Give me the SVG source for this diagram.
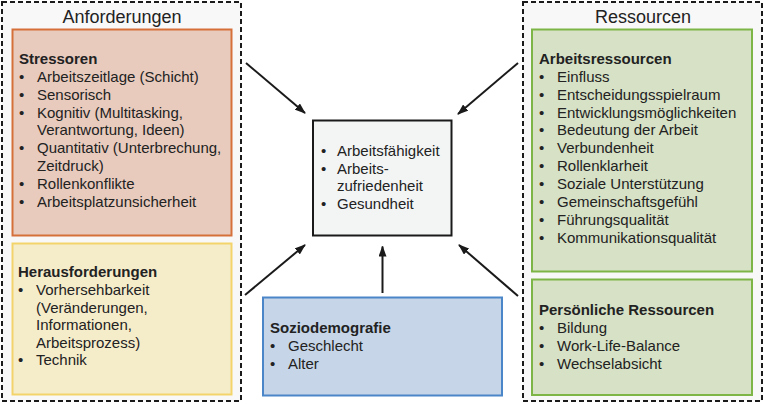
<svg xmlns="http://www.w3.org/2000/svg" width="764" height="404" viewBox="0 0 764 404">
<style>
text{font-family:"Liberation Sans",Arial,sans-serif;font-size:15px;fill:#222}
.h{font-weight:bold}
.t{font-size:18px;text-anchor:middle}
.c{fill:#f8f8f8;stroke:#1a1a1a;stroke-width:2;stroke-dasharray:5,3}
.ar{stroke:#1a1a1a;stroke-width:2;fill:none;marker-end:url(#ah)}
</style>
<defs>
<marker id="ah" viewBox="0 0 11 8" refX="10" refY="4" markerWidth="5.5" markerHeight="4" markerUnits="strokeWidth" orient="auto">
<path d="M0,0 L11,4 L0,8 z" fill="#1a1a1a"/>
</marker>
</defs>
<g id="anforderungen">
<rect class="c" x="2" y="2" width="239" height="399"/>
<text class="t" x="122" y="23">Anforderungen</text>
</g>
<g id="ressourcen">
<rect class="c" x="523" y="2" width="239" height="399"/>
<text class="t" x="643" y="23">Ressourcen</text>
</g>
<g id="stressoren">
<rect x="12.5" y="29.5" width="219" height="206" fill="#e8cbbd" stroke="#d5703b" stroke-width="2"/>
<text class="h" x="19" y="64">Stressoren</text>
<text x="19" y="82">•</text><text x="37" y="82">Arbeitszeitlage (Schicht)</text>
<text x="19" y="100">•</text><text x="37" y="100">Sensorisch</text>
<text x="19" y="117.5">•</text><text x="37" y="117.5">Kognitiv (Multitasking,</text>
<text x="37" y="135">Verantwortung, Ideen)</text>
<text x="19" y="153">•</text><text x="37" y="153">Quantitativ (Unterbrechung,</text>
<text x="37" y="170.5">Zeitdruck)</text>
<text x="19" y="189">•</text><text x="37" y="189">Rollenkonflikte</text>
<text x="19" y="207">•</text><text x="37" y="207">Arbeitsplatzunsicherheit</text>
</g>
<g id="herausforderungen">
<rect x="12.5" y="243.5" width="219" height="151" fill="#f5ecca" stroke="#f3d46a" stroke-width="2"/>
<text class="h" x="18" y="277">Herausforderungen</text>
<text x="18" y="295">•</text><text x="36" y="295">Vorhersehbarkeit</text>
<text x="36" y="312.5">(Veränderungen,</text>
<text x="36" y="330">Informationen,</text>
<text x="36" y="347.5">Arbeitsprozess)</text>
<text x="18" y="365">•</text><text x="36" y="365">Technik</text>
</g>
<g id="ergebnis">
<rect x="313" y="120.5" width="138.5" height="115" fill="#f3f5f5" stroke="#1a1a1a" stroke-width="2"/>
<text x="321" y="156">•</text><text x="337" y="156">Arbeitsfähigkeit</text>
<text x="321" y="173.5">•</text><text x="337" y="173.5">Arbeits-</text>
<text x="337" y="191">zufriedenheit</text>
<text x="321" y="208.5">•</text><text x="337" y="208.5">Gesundheit</text>
</g>
<g id="soziodemografie">
<rect x="263" y="297.5" width="239" height="98" fill="#c6d6e8" stroke="#4a86c8" stroke-width="2"/>
<text class="h" x="270" y="333">Soziodemografie</text>
<text x="270" y="351">•</text><text x="288" y="351">Geschlecht</text>
<text x="270" y="369">•</text><text x="288" y="369">Alter</text>
</g>
<g id="arbeitsressourcen">
<rect x="532" y="29.5" width="220" height="242" fill="#d6e1c5" stroke="#7db546" stroke-width="2"/>
<text class="h" x="539" y="64">Arbeitsressourcen</text>
<text x="539" y="82">•</text><text x="557" y="82">Einfluss</text>
<text x="539" y="100">•</text><text x="557" y="100">Entscheidungsspielraum</text>
<text x="539" y="117.5">•</text><text x="557" y="117.5">Entwicklungsmöglichkeiten</text>
<text x="539" y="135">•</text><text x="557" y="135">Bedeutung der Arbeit</text>
<text x="539" y="153">•</text><text x="557" y="153">Verbundenheit</text>
<text x="539" y="171">•</text><text x="557" y="171">Rollenklarheit</text>
<text x="539" y="189">•</text><text x="557" y="189">Soziale Unterstützung</text>
<text x="539" y="206.5">•</text><text x="557" y="206.5">Gemeinschaftsgefühl</text>
<text x="539" y="224.5">•</text><text x="557" y="224.5">Führungsqualität</text>
<text x="539" y="242.5">•</text><text x="557" y="242.5">Kommunikationsqualität</text>
</g>
<g id="persoenliche">
<rect x="532" y="279.5" width="220" height="115.5" fill="#d6e1c5" stroke="#7db546" stroke-width="2"/>
<text class="h" x="539" y="315">Persönliche Ressourcen</text>
<text x="539" y="333">•</text><text x="557" y="333">Bildung</text>
<text x="539" y="351">•</text><text x="557" y="351">Work-Life-Balance</text>
<text x="539" y="369">•</text><text x="557" y="369">Wechselabsicht</text>
</g>
<g id="connectors">
<line class="ar" x1="246" y1="63" x2="305" y2="113"/>
<line class="ar" x1="518" y1="63" x2="458" y2="114"/>
<line class="ar" x1="245" y1="295" x2="305" y2="245"/>
<line class="ar" x1="518" y1="296" x2="459" y2="245"/>
<line class="ar" x1="382.5" y1="293" x2="382.5" y2="246.5"/>
</g>
</svg>
